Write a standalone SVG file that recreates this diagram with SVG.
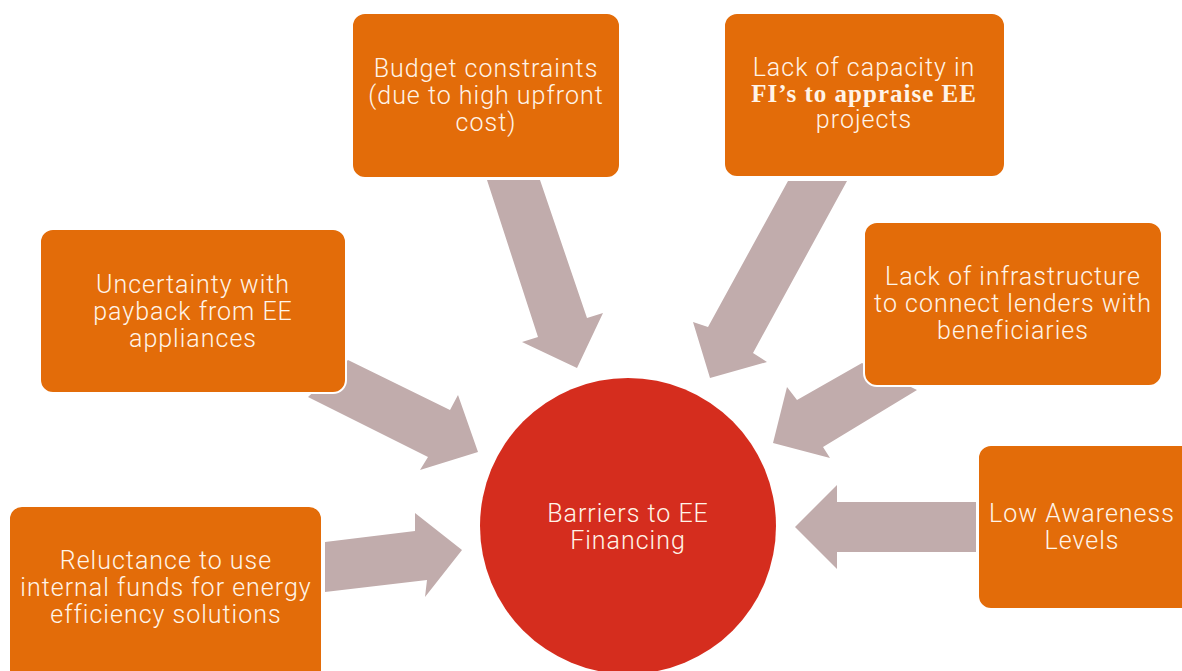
<svg xmlns="http://www.w3.org/2000/svg" width="1182" height="671" viewBox="0 0 1182 671">
<style>
.box{fill:#E36C09;stroke:#FFFFFF;stroke-width:2}
.arr{fill:#C1ACAC}
.t{font-family:Roboto,"Liberation Sans",sans-serif;font-weight:300;font-size:25px;letter-spacing:1px;fill:#FFF4E8;text-anchor:middle}
.b{font-family:"Liberation Serif","DejaVu Serif",serif;font-weight:bold}
</style>
<rect width="1182" height="671" fill="#FFFFFF"/>
<g id="connectors">
<polygon class="arr" points="487,180 540,180 587,318 603,313 577,368 522,342 538,337"/>
<polygon class="arr" points="788,181 847,181 753,353 767,362 710,378 693,322 708,327"/>
<polygon class="arr" points="348,360 450,410 458,395 478,452 420,470 428,457 308,397"/>
<polygon class="arr" points="325,542 415,531 415,513 462,550 425,597 427,580 325,592"/>
<polygon class="arr" points="862,363 917,390 823,447 830,458 773,443 787,387 797,400"/>
<polygon class="arr" points="976,502 837,502 837,485 795,527 837,569 837,552 976,552"/>
</g>
<g id="center">
<circle cx="628" cy="526" r="148" fill="#D52D1E"/>
<text class="t" x="628" y="522">Barriers to EE</text>
<text class="t" x="628" y="549">Financing</text>
</g>
<g id="budget">
<rect class="box" x="352" y="13" width="268" height="165" rx="13"/>
<text class="t" x="486" y="77">Budget constraints</text>
<text class="t" x="486" y="104">(due to high upfront</text>
<text class="t" x="486" y="131">cost)</text>
</g>
<g id="capacity">
<rect class="box" x="724" y="13" width="281" height="164" rx="13"/>
<text class="t" x="864" y="76">Lack of capacity in</text>
<text class="t b" x="864" y="102">FI’s to appraise EE</text>
<text class="t" x="864" y="128">projects</text>
</g>
<g id="uncertainty">
<rect class="box" x="40" y="229" width="306" height="164" rx="13"/>
<text class="t" x="193" y="293">Uncertainty with</text>
<text class="t" x="193" y="320">payback from EE</text>
<text class="t" x="193" y="347">appliances</text>
</g>
<g id="infrastructure">
<rect class="box" x="864" y="222" width="298" height="164" rx="13"/>
<text class="t" x="1013" y="285">Lack of infrastructure</text>
<text class="t" x="1013" y="312">to connect lenders with</text>
<text class="t" x="1013" y="339">beneficiaries</text>
</g>
<g id="awareness">
<rect class="box" x="978" y="445" width="220" height="164" rx="13"/>
<text class="t" x="1082" y="522">Low Awareness</text>
<text class="t" x="1082" y="549">Levels</text>
</g>
<g id="reluctance">
<rect class="box" x="9" y="506" width="313" height="180" rx="13"/>
<text class="t" x="166" y="569">Reluctance to use</text>
<text class="t" x="166" y="596">internal funds for energy</text>
<text class="t" x="166" y="623">efficiency solutions</text>
</g>
</svg>
